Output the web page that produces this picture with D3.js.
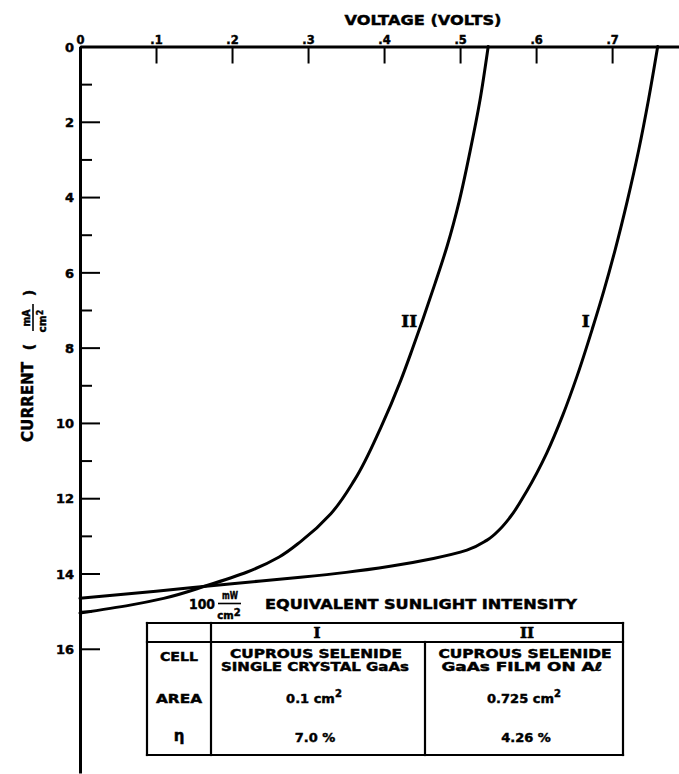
<!DOCTYPE html>
<html>
<head>
<meta charset="utf-8">
<script src="https://cdn.jsdelivr.net/npm/d3@7"></script>
<style>
  html, body { margin: 0; padding: 0; background: #fff; }
  svg { display: block; }
  text { fill: #000; stroke: #000; stroke-width: 0.45px; font-family: "DejaVu Sans", "Liberation Sans", sans-serif; font-weight: bold; }
  .roman { font-family: "DejaVu Serif", "Liberation Serif", serif; font-weight: bold; stroke-width: 0.6px; }
</style>
</head>
<body>
<svg id="chart" width="679" height="774"></svg>
<script>
// Current–voltage characteristics of two cuprous selenide / GaAs solar cells
// under 100 mW/cm² equivalent sunlight.

const voltageTicks = [0, 0.1, 0.2, 0.3, 0.4, 0.5, 0.6, 0.7];
const currentMajorTicks = [0, 2, 4, 6, 8, 10, 12, 14, 16];
const currentMinorTicks = [1, 3, 5, 7, 9, 11, 13, 15];

// Cell I: single crystal GaAs (volts, mA/cm²)
const cellIVoltage = [0, 0.10, 0.20, 0.29, 0.35, 0.41, 0.465, 0.509, 0.535, 0.553, 0.566, 0.588, 0.614, 0.635, 0.654, 0.674, 0.689, 0.704, 0.720, 0.735, 0.748, 0.760];
const cellICurrent = [14.66, 14.47, 14.27, 14.10, 13.97, 13.80, 13.60, 13.38, 13.12, 12.81, 12.5, 11.8, 10.8, 9.8, 8.75, 7.5, 6.5, 5.4, 4.1, 2.75, 1.4, 0];

// Cell II: GaAs film on aluminium (volts, mA/cm²)
const cellIIVoltage = [0, 0.066, 0.110, 0.167, 0.220, 0.262, 0.291, 0.330, 0.361, 0.396, 0.422, 0.437, 0.451, 0.467, 0.483, 0.499, 0.513, 0.526, 0.537];
const cellIICurrent = [15.05, 14.84, 14.66, 14.32, 13.96, 13.56, 13.14, 12.41, 11.52, 10.11, 8.87, 8.05, 7.25, 6.3, 5.3, 4.1, 2.8, 1.45, 0];

const curveNames = ["I", "II"];
const curveLabelCurrent = 7.3;

// Summary table
const tableRowLabels = ["CELL", "AREA", "η"];
const cellDescriptionTop = ["CUPROUS SELENIDE", "CUPROUS SELENIDE"];
const cellDescriptionBottom = ["SINGLE CRYSTAL GaAs", "GaAs FILM ON Aℓ"];
const cellAreas = ["0.1", "0.725"];
const cellEfficiencies = ["7.0 %", "4.26 %"];

const svg = d3.select("#chart");

const x = d3.scaleLinear().domain([0, 0.788]).range([80, 679]);
const y = d3.scaleLinear().domain([0, 19.3]).range([46.5, 773]);

function txt(parent, s, px, py, opts = {}) {
  const t = parent.append("text")
    .attr("x", px).attr("y", py)
    .attr("font-size", opts.size || 12)
    .attr("text-anchor", opts.anchor || "start")
    .text(s);
  if (opts.len) t.attr("textLength", opts.len).attr("lengthAdjust", "spacingAndGlyphs");
  if (opts.cls) t.attr("class", opts.cls);
  return t;
}

// ---- Voltage axis (top) ----
const fmtV = d => d === 0 ? "0" : d3.format(".1f")(d).replace(/^0/, "");
const xAxis = svg.append("g")
  .attr("transform", `translate(0,${y(0)})`)
  .call(d3.axisTop(x).tickValues(voltageTicks).tickSizeInner(-17).tickSizeOuter(0).tickPadding(3).tickFormat(fmtV));
xAxis.select(".domain").attr("stroke", "#000").attr("stroke-width", 3);
xAxis.selectAll(".tick line").attr("stroke", "#000").attr("stroke-width", 2);
xAxis.selectAll(".tick text").attr("font-size", 11.5).attr("font-family", null).attr("fill", "#000")
  .attr("y", -3).attr("dy", 0).attr("text-anchor", "middle");

txt(svg, "VOLTAGE (VOLTS)", 423, 25, { size: 14, anchor: "middle", len: 157 });

// ---- Current axis (left, increasing downward) ----
const yAxis = svg.append("g")
  .attr("transform", `translate(${x(0)},0)`)
  .call(d3.axisLeft(y).tickValues(currentMajorTicks).tickSizeInner(-20).tickSizeOuter(0).tickPadding(6));
yAxis.select(".domain").attr("stroke", "#000").attr("stroke-width", 3);
yAxis.selectAll(".tick line").attr("stroke", "#000").attr("stroke-width", 2);
yAxis.selectAll(".tick text").attr("font-size", 13).attr("font-family", null).attr("fill", "#000")
  .attr("x", -6).attr("dy", "0.36em").attr("text-anchor", "end");

const yMinor = svg.append("g")
  .attr("transform", `translate(${x(0)},0)`)
  .call(d3.axisLeft(y).tickValues(currentMinorTicks).tickSizeInner(-12).tickSizeOuter(0).tickFormat(""));
yMinor.select(".domain").remove();
yMinor.selectAll(".tick line").attr("stroke", "#000").attr("stroke-width", 2);

// Rotated current label: CURRENT ( mA / cm² )
const yl = svg.append("g").attr("transform", "translate(33,442) rotate(-90)");
txt(yl, "CURRENT", 0, 0, { size: 15, len: 80 });
txt(yl, "(", 95, 1, { size: 14, anchor: "middle" });
txt(yl, "mA", 124, -3, { size: 10.5, anchor: "middle", len: 17 });
yl.append("line").attr("x1", 111).attr("x2", 138).attr("y1", 0).attr("y2", 0)
  .attr("stroke", "#000").attr("stroke-width", 1.6);
const cmY = txt(yl, "cm", 121, 13, { size: 10.5, anchor: "middle" });
cmY.append("tspan").attr("font-size", 8).attr("dy", -3).text("2");
txt(yl, ")", 149, 1, { size: 14, anchor: "middle" });

// ---- I–V curves ----
const series = [
  { name: curveNames[0], pts: d3.zip(cellIVoltage, cellICurrent) },
  { name: curveNames[1], pts: d3.zip(cellIIVoltage, cellIICurrent) }
];
// Voltage is a smooth monotone function of current, so interpolate along y.
const line = d3.line().x(d => x(d[0])).y(d => y(d[1])).curve(d3.curveMonotoneY);

svg.append("g").selectAll("path").data(series).join("path")
  .attr("d", d => line(d.pts.slice().sort((a, b) => a[1] - b[1])))
  .attr("fill", "none")
  .attr("stroke", "#000")
  .attr("stroke-width", 3)
  .attr("stroke-linejoin", "round")
  .attr("stroke-linecap", "round");

// Roman numeral tags, placed just left of each curve
series.forEach(s => {
  const pts = s.pts.slice().sort((a, b) => a[1] - b[1]);
  const i = d3.bisector(p => p[1]).left(pts, curveLabelCurrent);
  const t = (curveLabelCurrent - pts[i - 1][1]) / (pts[i][1] - pts[i - 1][1]);
  const v = pts[i - 1][0] + t * (pts[i][0] - pts[i - 1][0]);
  txt(svg, s.name, x(v) - 5, y(curveLabelCurrent) + 6, { size: 17, anchor: "end", cls: "roman" });
});

// ---- Conditions heading ----
txt(svg, "100", 189, 609, { size: 14, len: 26 });
txt(svg, "mW", 230, 599, { size: 10, anchor: "middle", len: 16 });
svg.append("line").attr("x1", 218).attr("x2", 241).attr("y1", 603.5).attr("y2", 603.5)
  .attr("stroke", "#000").attr("stroke-width", 1.6);
const cmT = txt(svg, "cm", 229, 619, { size: 10, anchor: "middle" });
cmT.append("tspan").attr("font-size", 10).attr("dy", -3).text("2");
txt(svg, "EQUIVALENT SUNLIGHT INTENSITY", 265, 609, { size: 14, len: 312 });

// ---- Table ----
const tb = { left: 147, div: 211, mid: 425, right: 623, top: 623, head: 642, bottom: 755 };
const colC = [(tb.div + tb.mid) / 2, (tb.mid + tb.right) / 2];
const labC = (tb.left + tb.div) / 2;
const tg = svg.append("g");
const seg = (x1, y1, x2, y2) => tg.append("line")
  .attr("x1", x1).attr("y1", y1).attr("x2", x2).attr("y2", y2)
  .attr("stroke", "#000").attr("stroke-width", 2.2).attr("stroke-linecap", "square");
seg(tb.left, tb.top, tb.right, tb.top);
seg(tb.left, tb.head, tb.right, tb.head);
seg(tb.left, tb.bottom, tb.right, tb.bottom);
seg(tb.left, tb.top, tb.left, tb.bottom);
seg(tb.right, tb.top, tb.right, tb.bottom);
seg(tb.div, tb.top, tb.div, tb.bottom);
seg(tb.mid, tb.head, tb.mid, tb.bottom);

curveNames.forEach((n, k) => txt(tg, n, colC[k] - 1 + (k ? 4 : 0), 638, { size: 15, anchor: "middle", cls: "roman" }));

txt(tg, tableRowLabels[0], labC, 661, { size: 13, anchor: "middle", len: 38 });
txt(tg, tableRowLabels[1], labC, 703, { size: 13, anchor: "middle", len: 46 });
txt(tg, tableRowLabels[2], labC, 741, { size: 15, anchor: "middle" });

const topLen = [172, 173], botLen = [188, 161];
cellDescriptionTop.forEach((s, k) => txt(tg, s, colC[k] - 2 + (k ? 3 : 0), 657.5, { size: 12, anchor: "middle", len: topLen[k] }));
cellDescriptionBottom.forEach((s, k) => txt(tg, s, colC[k] - 2 + (k ? 0 : -1), 671, { size: 12, anchor: "middle", len: botLen[k] }));

cellAreas.forEach((a, k) => {
  const t = txt(tg, a + " cm", colC[k] - 4 + (k ? 4 : 0), 703, { size: 13, anchor: "middle" });
  t.append("tspan").attr("font-size", 10).attr("dy", -6).text("2");
});
cellEfficiencies.forEach((e, k) => txt(tg, e, colC[k] - 3 + (k ? 5 : 0), 742, { size: 13, anchor: "middle" }));
</script>
</body>
</html>
